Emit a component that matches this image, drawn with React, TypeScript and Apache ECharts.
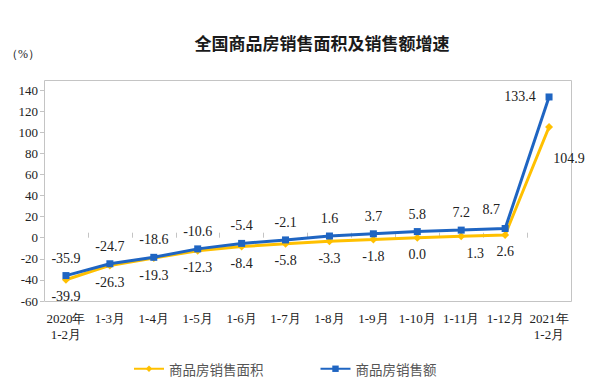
import React, { useEffect, useRef } from "react";
import * as echarts from "echarts";

const categories = [
  "2020年\n1-2月", "1-3月", "1-4月", "1-5月", "1-6月", "1-7月",
  "1-8月", "1-9月", "1-10月", "1-11月", "1-12月", "2021年\n1-2月",
];
const salesArea = [-39.9, -26.3, -19.3, -12.3, -8.4, -5.8, -3.3, -1.8, 0.0, 1.3, 2.6, 104.9];
const salesAmount = [-35.9, -24.7, -18.6, -10.6, -5.4, -2.1, 1.6, 3.7, 5.8, 7.2, 8.7, 133.4];

const YELLOW = "#FFC000";
const BLUE = "#1F65C2";
const SERIF = "Liberation Serif";

// label placement tweaks by data index (layout only)
const areaLabelTweaks: Record<number, any> = {
  9: { offset: [14, 0] },
  11: { position: "inside", offset: [20, 31] },
};
const amountLabelTweaks: Record<number, any> = {
  10: { offset: [-14, -2] },
  11: { position: "inside", offset: [-29, 0] },
};

export default function App() {
  const ref = useRef<HTMLDivElement>(null);
  useEffect(() => {
    document.body.style.margin = "0";
    if (!ref.current) return;
    const chart = echarts.init(ref.current, undefined, { renderer: "svg" });
    const labelStyle = { fontFamily: SERIF, fontSize: 14, color: "#222" };
    chart.setOption({
      animation: false,
      backgroundColor: "#fff",
      title: {
        text: "全国商品房销售面积及销售额增速",
        left: 317,
        top: 29,
        textAlign: "center",
        textStyle: { fontFamily: "Noto Sans CJK SC", fontSize: 17, fontWeight: "bold", color: "#1a1a1a" },
      },
      graphic: [
        {
          type: "text",
          left: 6,
          top: 48,
          style: { text: "（%）", font: "12px 'Liberation Serif'", fill: "#222" },
        },
        {
          type: "rect",
          shape: { x: 44.5, y: 80.5, width: 527, height: 221 },
          style: { fill: "none", stroke: "#c4c4c4", lineWidth: 1 },
          z: 0,
        },
      ],
      legend: {
        top: 357,
        left: 128,
        itemGap: 56,
        itemWidth: 30,
        itemHeight: 8,
        textStyle: { fontFamily: "Noto Sans CJK SC", fontSize: 13.5, color: "#555" },
        data: ["商品房销售面积", "商品房销售额"],
      },
      grid: { left: 44, right: 42, top: 90, bottom: 88 },
      xAxis: {
        type: "category",
        data: categories,
        boundaryGap: true,
        axisLine: { show: false },
        axisTick: { show: true, inside: true, length: 5, lineStyle: { color: "#c4c4c4" } },
        axisLabel: { fontFamily: SERIF, fontSize: 13, color: "#222", margin: 9, lineHeight: 16, interval: 0 },
      },
      yAxis: {
        type: "value",
        min: -60,
        max: 140,
        interval: 20,
        splitLine: { show: false },
        axisLine: { show: false },
        axisTick: { show: true, length: 4, lineStyle: { color: "#c4c4c4" } },
        axisLabel: { fontFamily: SERIF, fontSize: 13, color: "#222", margin: 6 },
      },
      series: [
        {
          name: "商品房销售面积",
          type: "line",
          data: salesArea.map((v, i) =>
            areaLabelTweaks[i] ? { value: v, label: areaLabelTweaks[i] } : v
          ),
          color: YELLOW,
          symbol: "diamond",
          symbolSize: 8,
          lineStyle: { width: 3, color: YELLOW },
          itemStyle: { color: YELLOW },
          label: {
            show: true,
            position: "bottom",
            distance: 6,
            formatter: (p: any) => Number(p.value).toFixed(1),
            ...labelStyle,
          },
          z: 2,
        },
        {
          name: "商品房销售额",
          type: "line",
          data: salesAmount.map((v, i) =>
            amountLabelTweaks[i] ? { value: v, label: amountLabelTweaks[i] } : v
          ),
          color: BLUE,
          symbol: "rect",
          symbolSize: 7,
          lineStyle: { width: 3, color: BLUE },
          itemStyle: { color: BLUE },
          label: {
            show: true,
            position: "top",
            distance: 7,
            formatter: (p: any) => Number(p.value).toFixed(1),
            ...labelStyle,
          },
          z: 3,
        },
      ],
    });
    return () => chart.dispose();
  }, []);
  return <div ref={ref} style={{ width: 613, height: 389 }} />;
}
